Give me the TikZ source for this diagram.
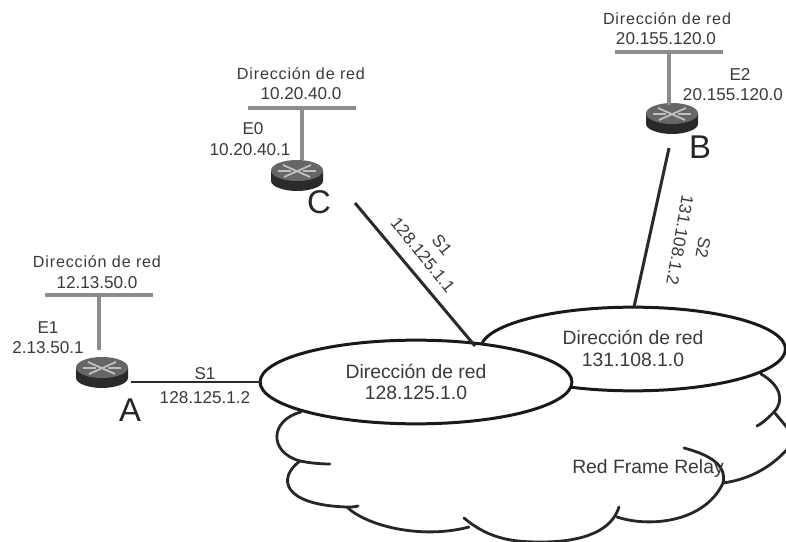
\documentclass[tikz,border=0pt]{standalone}
\usepackage{fontspec}
\setmainfont{Liberation Sans}
\newfontfamily\spaced[LetterSpace=5]{Liberation Sans}
\usetikzlibrary{shapes.geometric}
\definecolor{txt}{HTML}{3A3A3A}
\definecolor{busgray}{HTML}{8C8C8C}
\definecolor{dark}{HTML}{2A2A2A}
\tikzset{
  lbl/.style={inner sep=0pt,text=txt,font=\fontsize{17.2}{17}\selectfont},
  netname/.style={inner sep=0pt,text=txt,font=\spaced\fontsize{16.2}{16}\selectfont},
  biglbl/.style={inner sep=0pt,text=txt,font=\fontsize{19.4}{19}\selectfont},
  letter/.style={inner sep=0pt,text=black!85,font=\fontsize{33}{33}\selectfont},
  bus/.style={draw=none,fill=busgray,inner sep=0pt,minimum width=108,minimum height=4},
  drop/.style={draw=busgray,line width=3.2},
  link/.style={draw=dark,line width=3},
  net/.style={ellipse,draw=black!90,line width=3,fill=white,inner sep=0pt},
  cloudline/.style={draw=black!85,line width=2.8,line cap=round},
  routerbox/.style={inner sep=0pt,minimum width=52,minimum height=30}
}
\newcommand{\routerat}[3]{%
  \node[routerbox] (#1) at (#2,#3) {};
  \begin{scope}[shift={(#1.center)}]
    \fill[dark] (-26,-4) -- (-26,6) .. controls (-26,12) and (-12,16) .. (0,16)
       .. controls (12,16) and (26,12) .. (26,6) -- (26,-4) -- cycle;
    \fill[black!60] (0,-4.5) ellipse [x radius=26,y radius=10.5];
    \draw[black!25,line width=1.8] (-14,-10) -- (13,2) (14,-10) -- (-13,2);
    \draw[black!25,line width=1.8] (-19,-4) -- (-6,-4) (6,-4) -- (19,-4);
  \end{scope}}
\begin{document}
\begin{tikzpicture}[x=1bp,y=-1bp]
\useasboundingbox (0,0) rectangle (786,542);
\clip (0,0) rectangle (786,542);
\fill[white] (0,0) rectangle (786,542);

% cloud
\draw[cloudline] (301,412) .. controls (270,420) and (268,452) .. (300,461) .. controls (310,463) and (320,464) .. (330,464);
\draw[cloudline] (300,461) .. controls (277,478) and (282,505) .. (347,507) .. controls (350,507) and (355,507) .. (358,506);
\draw[cloudline] (347,507) .. controls (365,525) and (420,540) .. (469,527);
\draw[cloudline] (464,518) .. controls (490,540) and (515,542) .. (541,542) .. controls (585,542) and (612,530) .. (619,507);
\draw[cloudline] (617,517) .. controls (650,528) and (705,522) .. (723,483) .. controls (727,465) and (710,455) .. (684,448);
\draw[cloudline] (723,483) .. controls (745,480) and (770,470) .. (790,446);
\draw[cloudline] (761,374) .. controls (780,385) and (785,400) .. (774,412) .. controls (768,418) and (764,422) .. (757,426);
\draw[cloudline] (774,412) -- (790,431);

% networks
\node[net,minimum width=306,minimum height=84] (nb) at (633,349) {};
\node[net,minimum width=313,minimum height=84] (na) at (416,382) {};
\node[biglbl] (nal1) at (416,371) {Dirección de red};
\node[biglbl] (nal2) at (416,393) {128.125.1.0};
\node[biglbl] (nbl1) at (633,337) {Dirección de red};
\node[biglbl] (nbl2) at (633,360) {131.108.1.0};
\node[biglbl] (frame) at (648,468) {Red Frame Relay};

% routers
\routerat{ra}{102}{372}
\routerat{rc}{297}{175}
\routerat{rb}{672}{118}

% buses and drops
\node[bus] (busa) at (99,295) {};
\node[bus] (busc) at (302,108) {};
\node[bus] (busb) at (669,52) {};
\coordinate (ta) at (99,350);
\coordinate (tc) at (302,160);
\coordinate (tb) at (669,105);
\draw[drop] (busa.center) -- (ta);
\draw[drop] (busc.center) -- (tc);
\draw[drop] (busb.center) -- (tb);

% links
\coordinate (sa) at (131,382);
\coordinate (sc) at (355,203);
\coordinate (sb) at (669,148);
\coordinate (ea) at (262,382);
\coordinate (ec) at (475,346);
\coordinate (eb) at (634,307);
\draw[link] (sa) -- (ea);
\draw[link] (sc) -- (ec);
\draw[link] (sb) -- (eb);

% labels A
\node[netname] (la1) at (97,262) {Dirección de red};
\node[lbl] (la2) at (97,283) {12.13.50.0};
\node[lbl] (la3) at (48,328) {E1};
\node[lbl] (la4) at (48,348) {2.13.50.1};
\node[lbl] (la5) at (205,374) {S1};
\node[lbl] (la6) at (205,398) {128.125.1.2};
\node[letter] (la) at (130,410) {A};

% labels C
\node[netname] (lc1) at (301,74) {Dirección de red};
\node[lbl] (lc2) at (301,94) {10.20.40.0};
\node[lbl] (lc3) at (253,129) {E0};
\node[lbl] (lc4) at (250,150) {10.20.40.1};
\node[letter] (lc) at (319,202) {C};
\node[lbl,rotate=-51] (lc5) at (442,245) {S1};
\node[lbl,rotate=-51] (lc6) at (423,255) {128.125.1.1};

% labels B
\node[netname] (lb1) at (667,19) {Dirección de red};
\node[lbl] (lb2) at (666,39) {20.155.120.0};
\node[lbl] (lb3) at (740,75) {E2};
\node[lbl] (lb4) at (733,95) {20.155.120.0};
\node[letter] (lb) at (700,147) {B};
\node[lbl,rotate=-100] (lb5) at (703,248) {S2};
\node[lbl,rotate=-100] (lb6) at (680,240) {131.108.1.2};
\end{tikzpicture}
\end{document}
